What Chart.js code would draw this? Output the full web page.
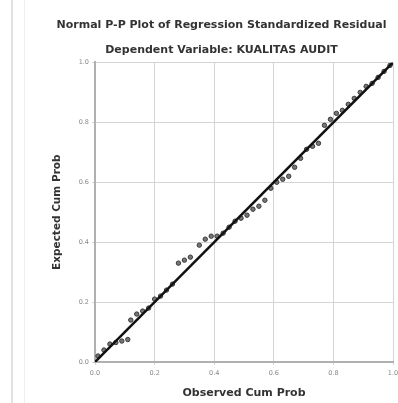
<!DOCTYPE html>
<html>
<head>
<meta charset="utf-8">
<script src="https://cdn.jsdelivr.net/npm/chart.js@4.4.1/dist/chart.umd.min.js"></script>
<style>
  html, body { margin: 0; padding: 0; background: #fff; }
  #wrap { position: relative; width: 398px; height: 403px; }
  #edge1 { position: absolute; left: 11px; top: 0; width: 2px; height: 403px; background: #e2e2e2; }
  #edge2 { position: absolute; left: 24px; top: 0; width: 1px; height: 403px; background: #efefef; }
  canvas { position: absolute; left: 0; top: 0; }
</style>
</head>
<body>
<div id="wrap">
  <div id="edge1"></div>
  <div id="edge2"></div>
  <canvas id="chart" width="398" height="403"></canvas>
</div>
<script>
// P-P plot data
const observedCumProb = [0.01, 0.03, 0.05, 0.07, 0.09, 0.11, 0.12, 0.14, 0.16, 0.18,
  0.20, 0.22, 0.24, 0.26, 0.28, 0.30, 0.32, 0.35, 0.37, 0.39,
  0.41, 0.43, 0.45, 0.47, 0.49, 0.51, 0.53, 0.55, 0.57, 0.59,
  0.61, 0.63, 0.65, 0.67, 0.69, 0.71, 0.73, 0.75, 0.77, 0.79,
  0.81, 0.83, 0.85, 0.87, 0.89, 0.91, 0.93, 0.95, 0.97, 0.99];
const expectedCumProb = [0.02, 0.04, 0.06, 0.065, 0.07, 0.075, 0.14, 0.16, 0.17, 0.18,
  0.21, 0.22, 0.24, 0.26, 0.33, 0.34, 0.35, 0.39, 0.41, 0.42,
  0.42, 0.43, 0.45, 0.47, 0.48, 0.49, 0.51, 0.52, 0.54, 0.58,
  0.60, 0.61, 0.62, 0.65, 0.68, 0.71, 0.72, 0.73, 0.79, 0.81,
  0.83, 0.84, 0.86, 0.88, 0.90, 0.92, 0.93, 0.95, 0.97, 0.99];
const refLine = [{ x: 0, y: 0 }, { x: 1, y: 1 }];
const axisMin = 0;
const axisMax = 1;
const tickStep = 0.2;

const titleText = 'Normal P-P Plot of Regression Standardized Residual';
const subtitleText = 'Dependent Variable: KUALITAS AUDIT';
const xTitle = 'Observed Cum Prob';
const yTitle = 'Expected Cum Prob';

const points = observedCumProb.map((x, i) => ({ x: x, y: expectedCumProb[i] }));

const fontFamily = '"DejaVu Sans", Verdana, sans-serif';
const tickFont = { family: fontFamily, size: 6.5 };
const labelFont = { family: fontFamily, size: 11, weight: 'bold' };

new Chart(document.getElementById('chart'), {
    type: 'scatter',
    data: {
        datasets: [
            {
                label: 'Residuals',
                data: points,
                pointRadius: 2.2,
                pointBorderWidth: 1,
                pointBackgroundColor: '#777',
                pointBorderColor: '#3a3a3a',
                order: 2
            },
            {
                type: 'line',
                label: 'Reference',
                data: refLine,
                borderColor: '#111',
                borderWidth: 2.5,
                pointRadius: 0,
                fill: false,
                order: 1
            }
        ]
    },
    options: {
        responsive: false,
        animation: false,
        layout: { padding: { left: 48, right: 3, top: 0, bottom: 0 } },
        plugins: {
            legend: { display: false },
            tooltip: { enabled: false },
            title: {
                display: true,
                text: titleText,
                color: '#333',
                font: labelFont,
                padding: { top: 19, bottom: 11 }
            },
            subtitle: {
                display: true,
                text: subtitleText,
                color: '#333',
                font: labelFont,
                padding: { top: 0, bottom: 6 }
            }
        },
        scales: {
            x: {
                type: 'linear',
                min: axisMin,
                max: axisMax,
                afterFit: (scale) => {
                    scale.height = 41;
                    // let the chart area run to the right edge like the original
                    scale.paddingRight = 0;
                },
                ticks: {
                    stepSize: tickStep,
                    color: '#888',
                    font: tickFont,
                    padding: 4,
                    callback: (v) => v.toFixed(1)
                },
                grid: { color: '#d4d4d4', tickLength: 3, lineWidth: 1 },
                border: { display: true, color: '#b0b0b0', width: 2 },
                title: {
                    display: true,
                    text: xTitle,
                    color: '#333',
                    font: labelFont,
                    padding: { top: 0, bottom: 3 }
                }
            },
            y: {
                type: 'linear',
                min: axisMin,
                max: axisMax,
                afterFit: (scale) => { scale.width = 47; },
                ticks: {
                    stepSize: tickStep,
                    color: '#888',
                    font: tickFont,
                    padding: 3,
                    callback: (v) => v.toFixed(1)
                },
                grid: { color: '#d4d4d4', tickLength: 3, lineWidth: 1 },
                border: { display: true, color: '#b0b0b0', width: 2 },
                title: {
                    display: true,
                    text: yTitle,
                    color: '#333',
                    font: { family: fontFamily, size: 10.5, weight: 'bold' },
                    padding: { top: 3, bottom: 4 }
                }
            }
        }
    }
});
</script>
</body>
</html>
